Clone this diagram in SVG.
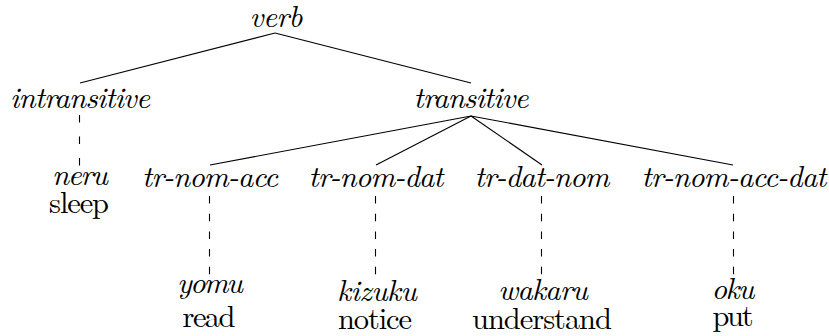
<svg xmlns="http://www.w3.org/2000/svg" width="829" height="336" viewBox="0 0 829 336">
<style>
text{font-family:'Latin Modern Roman','Liberation Serif',serif;font-size:30.5px;fill:#000;text-anchor:middle}
.it{font-style:italic}
.ln{stroke:#000;stroke-width:1.1;fill:none}
.d1{stroke:#000;stroke-width:1.1;fill:none;stroke-dasharray:7.5 14}
.d2{stroke:#000;stroke-width:1.1;fill:none;stroke-dasharray:7.5 10.2}
</style>
<rect width="829" height="336" fill="#fff"/>
<g id="connectors">
<line class="ln" x1="275" y1="33" x2="80" y2="83"/>
<line class="ln" x1="275" y1="33" x2="471" y2="83"/>
<line class="ln" x1="471" y1="116" x2="210" y2="165"/>
<line class="ln" x1="471" y1="116" x2="376" y2="165"/>
<line class="ln" x1="471" y1="116" x2="542" y2="165"/>
<line class="ln" x1="471" y1="116" x2="733" y2="165"/>
<line class="d1" x1="79.5" y1="115" x2="79.5" y2="167"/>
<line class="d2" x1="209.5" y1="196" x2="209.5" y2="276"/>
<line class="d2" x1="375.5" y1="196" x2="375.5" y2="276"/>
<line class="d2" x1="541.5" y1="196" x2="541.5" y2="276"/>
<line class="d2" x1="733.5" y1="196" x2="733.5" y2="276"/>
</g>
<g id="verb"><text class="it" x="276" y="27" textLength="53">verb</text></g>
<g id="intransitive"><text class="it" x="80" y="108" textLength="140">intransitive</text></g>
<g id="transitive"><text class="it" x="471" y="108" textLength="115">transitive</text></g>
<g id="neru"><text class="it" x="80" y="185" textLength="56">neru</text><text x="79" y="213" textLength="60">sleep</text></g>
<g id="tr-nom-acc"><text class="it" x="210" y="187" textLength="136">tr-nom-acc</text></g>
<g id="tr-nom-dat"><text class="it" x="376" y="187" textLength="135">tr-nom-dat</text></g>
<g id="tr-dat-nom"><text class="it" x="542" y="187" textLength="135">tr-dat-nom</text></g>
<g id="tr-nom-acc-dat"><text class="it" x="734" y="187" textLength="185">tr-nom-acc-dat</text></g>
<g id="yomu"><text class="it" x="210" y="293" textLength="66">yomu</text><text x="209" y="327" textLength="53">read</text></g>
<g id="kizuku"><text class="it" x="377" y="301" textLength="80">kizuku</text><text x="375" y="329" textLength="74">notice</text></g>
<g id="wakaru"><text class="it" x="543" y="300" textLength="90">wakaru</text><text x="542" y="329" textLength="140">understand</text></g>
<g id="oku"><text class="it" x="733" y="299" textLength="43">oku</text><text x="733" y="326" textLength="41">put</text></g>
</svg>
